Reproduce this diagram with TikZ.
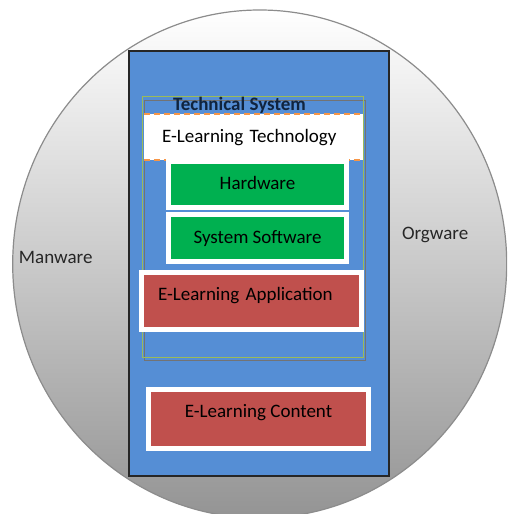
\documentclass[tikz,border=0pt]{standalone}
\usepackage{fontspec}
\setmainfont{Carlito}
\usetikzlibrary{shadows}
\definecolor{panelblue}{HTML}{558ED5}
\definecolor{layergreen}{HTML}{00B050}
\definecolor{layerred}{HTML}{C0504D}
\definecolor{frameolive}{HTML}{9BBB59}
\definecolor{dashorange}{HTML}{F79646}
\definecolor{titlenavy}{HTML}{10243E}
\tikzset{
  every node/.style={font=\fontsize{19}{22}\selectfont, inner sep=0pt, outer sep=0pt},
  layer/.style={draw=white, line width=5pt, text=black,
    drop shadow={shadow xshift=2pt, shadow yshift=-2pt, fill=black!70, opacity=0.35}},
  greenlayer/.style={layer, fill=layergreen, minimum width=178pt, text height=14pt, text depth=4pt},
  redlayer/.style={layer, fill=layerred},
  sidelabel/.style={text=black!85, anchor=base west},
}
\begin{document}
\begin{tikzpicture}[x=1pt,y=-1pt]
  \useasboundingbox (0,0) rectangle (507,514);
  \begin{scope}
    \clip (0,0) rectangle (507,514);
    % socio-technical surroundings
    \shade[top color=white, middle color=black!14, bottom color=black!42,
           draw=black!45, line width=1.2pt]
      (259.7,264) ellipse [x radius=247, y radius=254];
  \end{scope}

  \node[sidelabel] (manware) at (19,263) {Manware};
  \node[sidelabel] (orgware) at (402,239) {Orgware};

  % e-learning system panel
  \node[draw=black!85, fill=panelblue, line width=1.2pt, minimum width=260pt,
        minimum height=425pt, anchor=north west] (panel) at (129,51) {};

  % technical system frame with its offset outline
  \draw[black!55, line width=0.8pt] (144.5,100) rectangle (365,360);
  \node[draw=frameolive, line width=0.9pt, minimum width=221pt, minimum height=261pt,
        anchor=north west] (techsys) at (142,96) {};
  \node[anchor=base west, font=\bfseries\fontsize{19}{22}\selectfont, text=titlenavy]
    (techtitle) at (173,110.5) {Technical System};

  % e-learning technology band
  \node[fill=white, minimum width=219pt, minimum height=46pt, text width=183pt,
        align=left, text height=14pt, text depth=4pt, anchor=north west]
    (tech) at (144,114) {E-Learning Technology};
  \draw[dashorange, line width=1.2pt, dash pattern=on 6pt off 4pt]
    (tech.north west) -- (tech.north east);
  \draw[dashorange, line width=1.2pt, dash pattern=on 6pt off 4pt]
    (tech.south west) -- (tech.south east);

  \node[greenlayer, minimum height=46pt] (hardware) at (257.5,184.5) {Hardware};
  \node[greenlayer, minimum height=47pt] (software) at (257.5,238) {System Software};

  \node[redlayer, minimum width=220pt, minimum height=57pt, text width=187pt,
        align=left, text height=14pt, text depth=16pt] (application) at (251.5,301)
    {E-Learning Application};

  \node[redlayer, minimum width=220pt, minimum height=59pt, text height=14pt,
        text depth=18pt] (content) at (258.5,419) {E-Learning Content};
\end{tikzpicture}
\end{document}
